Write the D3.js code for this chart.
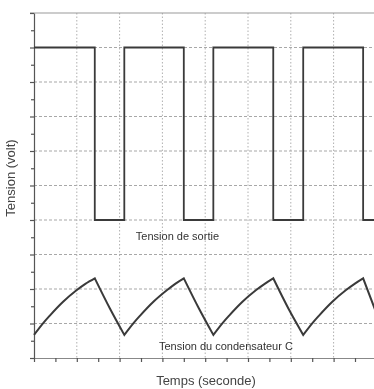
<!DOCTYPE html>
<html>
<head>
<meta charset="utf-8">
<script src="https://cdn.jsdelivr.net/npm/d3@7"></script>
<style>
  html, body { margin: 0; padding: 0; background: #fff; }
  svg { display: block; font-family: "Liberation Sans", Arial, sans-serif; filter: blur(0.3px); }
</style>
</head>
<body>
<div id="chart"></div>
<script>
// square wave (tension de sortie): switching times and levels
const sortieT = [0, 1.42, 2.11, 3.5, 4.19, 5.59, 6.29, 7.69, 8];
const sortieV = [9, 4, 9, 4, 9, 4, 9, 4, 4];

// capacitor voltage, read point by point
const condT = [0, 0.22, 0.37, 0.68, 1.0, 1.2, 1.42, 1.78, 2.11,
  2.33, 2.48, 2.79, 3.11, 3.3, 3.5, 3.86, 4.19,
  4.41, 4.56, 4.87, 5.19, 5.39, 5.59, 5.95, 6.29,
  6.51, 6.66, 6.97, 7.29, 7.49, 7.69, 8.0];
const condV = [0.67, 1.02, 1.23, 1.63, 1.97, 2.15, 2.31, 1.42, 0.67,
  1.02, 1.23, 1.63, 1.97, 2.15, 2.31, 1.42, 0.67,
  1.02, 1.23, 1.63, 1.97, 2.15, 2.31, 1.42, 0.67,
  1.02, 1.23, 1.63, 1.97, 2.15, 2.31, 1.3];

const majorX = [0, 1, 2, 3, 4, 5, 6, 7];
const minorX = [0.5, 1.5, 2.5, 3.5, 4.5, 5.5, 6.5, 7.5];
const majorY = [0, 1, 2, 3, 4, 5, 6, 7, 8, 9, 10];
const minorY = [0.5, 1.5, 2.5, 3.5, 4.5, 5.5, 6.5, 7.5, 8.5, 9.5];

const labels = [
  { text: "Tension de sortie", t: 2.38, v: 3.42 },
  { text: "Tension du condensateur C", t: 2.92, v: 0.23 }
];

const width = 374, height = 389;
const marginLeft = 34, marginTop = 13, plotBottom = 358;

const svg = d3.select("#chart").append("svg")
  .attr("width", width).attr("height", height);

const x = d3.scaleLinear().domain([0, 8]).range([marginLeft, marginLeft + 8 * 42.8]);
const y = d3.scaleLinear().domain([0, 10]).range([plotBottom, marginTop]);

// grid
svg.append("g").selectAll("line").data(majorY.filter(d => d > 0 && d < 10)).join("line")
  .attr("x1", marginLeft).attr("x2", width)
  .attr("y1", d => y(d)).attr("y2", d => y(d))
  .attr("stroke", "#a8a8a8").attr("stroke-width", 1.2).attr("stroke-dasharray", "3,2");
svg.append("g").selectAll("line").data(majorX.filter(d => d > 0)).join("line")
  .attr("x1", d => x(d)).attr("x2", d => x(d))
  .attr("y1", marginTop).attr("y2", plotBottom)
  .attr("stroke", "#b0b0b0").attr("stroke-width", 1).attr("stroke-dasharray", "1.5,2");

// top border
svg.append("line")
  .attr("x1", marginLeft - 4).attr("x2", width)
  .attr("y1", y(10)).attr("y2", y(10))
  .attr("stroke", "#999").attr("stroke-width", 1.2);

// axes
const axisColor = "#555";
function styleAxis(g) {
  g.selectAll("path,line").attr("stroke", axisColor).attr("stroke-width", 1.2);
  g.selectAll("text").remove();
}
svg.append("g").attr("transform", `translate(${marginLeft},0)`)
  .call(d3.axisLeft(y).tickValues(majorY).tickSize(4).tickSizeOuter(0).tickFormat(""))
  .call(styleAxis);
svg.append("g").attr("transform", `translate(${marginLeft},0)`)
  .call(d3.axisLeft(y).tickValues(minorY).tickSize(3).tickFormat(""))
  .call(g => g.select(".domain").remove())
  .call(styleAxis);
svg.append("g").attr("transform", `translate(0,${plotBottom})`)
  .call(d3.axisBottom(x).tickValues(majorX).tickSize(4).tickSizeOuter(0).tickFormat(""))
  .call(styleAxis)
  .call(g => g.select(".domain").attr("stroke", "#888"));
svg.append("g").attr("transform", `translate(0,${plotBottom})`)
  .call(d3.axisBottom(x).tickValues(minorX).tickSize(4).tickFormat(""))
  .call(g => g.select(".domain").remove())
  .call(styleAxis);

// curves
const sortie = sortieT.map((t, i) => [t, sortieV[i]]);
const cond = condT.map((t, i) => [t, condV[i]]);

svg.append("path")
  .attr("d", d3.line().x(d => x(d[0])).y(d => y(d[1])).curve(d3.curveStepAfter)(sortie))
  .attr("fill", "none").attr("stroke", "#3a3a3a").attr("stroke-width", 1.8);

// split the capacitor curve into rising and falling pieces, so the
// charging parts can be smoothed while the peaks stay sharp
const pieces = [];
let cur = [cond[0]];
for (let i = 1; i < cond.length; i++) {
  const up = cond[i][1] > cond[i - 1][1];
  if (cur.length > 1 && up !== cur.up) {
    pieces.push(cur);
    cur = [cond[i - 1]];
  }
  cur.up = up;
  cur.push(cond[i]);
}
pieces.push(cur);

const condLine = d3.line().x(d => x(d[0])).y(d => y(d[1])).curve(d3.curveMonotoneX);
// join pieces into one path so corners get a miter join
const joined = pieces.map((p, k) => k === 0 ? condLine(p) : condLine(p).replace(/^M[^A-Za-z]*/, "")).join("");
svg.append("path")
  .attr("d", joined)
  .attr("fill", "none").attr("stroke", "#3a3a3a").attr("stroke-width", 2)
  .attr("stroke-linejoin", "miter");

// labels
svg.append("g").selectAll("text").data(labels).join("text")
  .attr("x", d => x(d.t)).attr("y", d => y(d.v))
  .attr("font-size", 11).attr("fill", "#333")
  .text(d => d.text);

svg.append("text")
  .attr("x", 206).attr("y", 385)
  .attr("text-anchor", "middle").attr("font-size", 13).attr("fill", "#444")
  .text("Temps (seconde)");
svg.append("text")
  .attr("transform", "translate(15,178) rotate(-90)")
  .attr("text-anchor", "middle").attr("font-size", 13).attr("fill", "#444")
  .text("Tension (volt)");
</script>
</body>
</html>
